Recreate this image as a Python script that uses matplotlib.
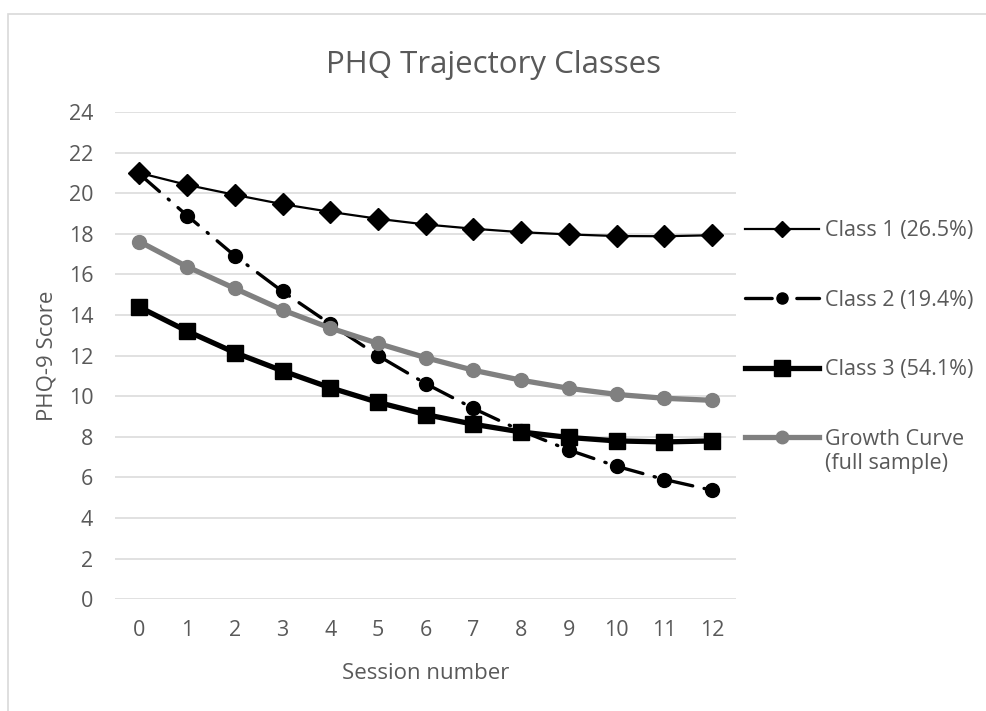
import matplotlib
matplotlib.use("Agg")
import matplotlib.pyplot as plt
from matplotlib.patches import Rectangle

plt.rcParams['font.family'] = ['Open Sans', 'DejaVu Sans']

sessions = list(range(13))
class1 = [21.0, 20.41, 19.92, 19.46, 19.08, 18.74, 18.46, 18.25, 18.08, 17.97, 17.89, 17.88, 17.93]
class2 = [20.95, 18.9, 16.92, 15.16, 13.56, 12.0, 10.62, 9.4, 8.3, 7.35, 6.55, 5.9, 5.37]
class3 = [14.39, 13.21, 12.15, 11.25, 10.42, 9.7, 9.1, 8.62, 8.24, 7.97, 7.8, 7.75, 7.8]
growth = [17.62, 16.38, 15.31, 14.25, 13.36, 12.6, 11.9, 11.28, 10.79, 10.39, 10.09, 9.9, 9.8]
labels = ['Class 1 (26.5%)', 'Class 2 (19.4%)', 'Class 3 (54.1%)', 'Growth Curve']
yticks = list(range(0, 25, 2))

txt = '#595959'
grid = '#d9d9d9'
fs = 15.5

fig = plt.figure(figsize=(9.86, 7.11), dpi=100)
ax = fig.add_axes([0.1171, 0.1571, 0.6294, 0.6854])

l1, = ax.plot(sessions, class1, color='black', lw=1.6, marker='D', ms=11)
l2, = ax.plot(sessions, class2, color='black', lw=2.4, marker='o', ms=10,
              dashes=(8, 3.5, 0.4, 3.5), dash_capstyle='round')
l3, = ax.plot(sessions, class3, color='black', lw=3.8, marker='s', ms=11)
l4, = ax.plot(sessions, growth, color='#808080', lw=3.8, marker='o', ms=10)

ax.set_xlim(-0.5, 12.5)
ax.set_ylim(0, 24)
ax.set_xticks(sessions)
ax.set_yticks(yticks)
ax.tick_params(length=0, labelsize=fs, labelcolor=txt)
ax.tick_params(axis='y', pad=16)
ax.tick_params(axis='x', pad=15)
for s in ax.spines.values():
    s.set_visible(False)
ax.grid(axis='y', color=grid, lw=1.1)
ax.set_axisbelow(True)

ax.set_xlabel('Session number', fontsize=16, color=txt, labelpad=16)
ax.set_ylabel('PHQ-9 Score', fontsize=16, color=txt, labelpad=8)
fig.text(0.5, 0.909, 'PHQ Trajectory Classes', ha='center', va='center',
         fontsize=22.5, color=txt)

leg = fig.legend([l1, l2, l3, l4], labels, loc='upper left',
                 bbox_to_anchor=(0.756, 0.69), frameon=False, fontsize=fs,
                 handlelength=3.4, handletextpad=0.3, labelspacing=2.25,
                 borderpad=0, borderaxespad=0)
for t in leg.get_texts():
    t.set_color(txt)
for h, ms in zip(leg.legend_handles, [8, 8, 11, 9]):
    h.set_markersize(ms)

# second line of the last legend entry, placed under "Growth Curve"
fig.canvas.draw()
bb = leg.get_texts()[3].get_window_extent().transformed(fig.transFigure.inverted())
fig.text(bb.x0, bb.y0 - 0.004, '(full sample)', fontsize=fs, color=txt,
         va='top', ha='left')

fig.patches.append(Rectangle((8 / 986, -0.1), 1.2, 1.1 - 14 / 711,
                             transform=fig.transFigure, fill=False,
                             edgecolor=grid, lw=1.2))

fig.savefig('out.png', dpi=100)
